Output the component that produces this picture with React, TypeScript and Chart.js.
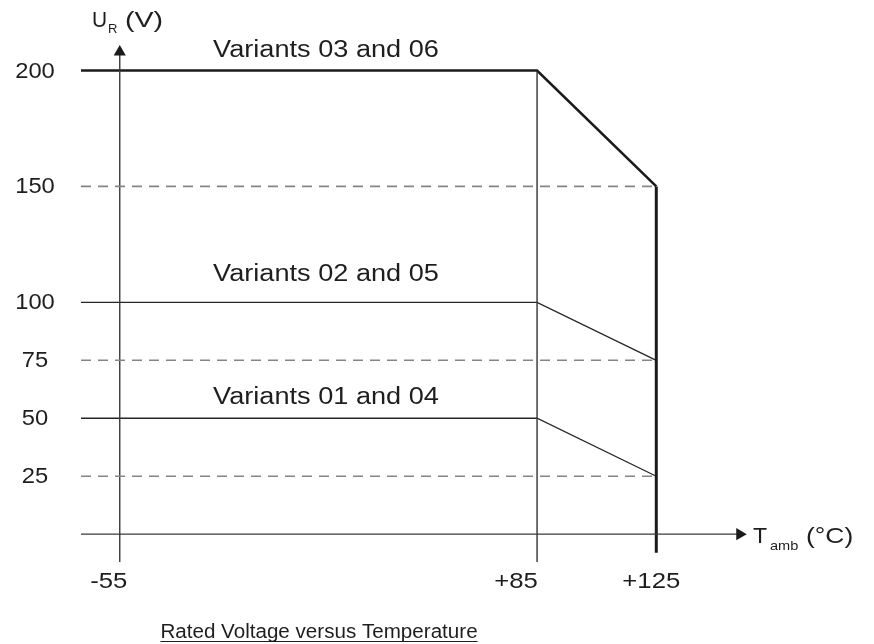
import React, { useEffect, useRef } from "react";
import { Chart, registerables } from "chart.js";

Chart.register(...registerables);

// ---- data ----
const tempPoints = [-68, 85, 125];
const variant0306 = [200, 200, 150];
const variant0205 = [100, 100, 75];
const variant0104 = [50, 50, 25];
const deratedLevels = [150, 75, 25];
const variantLabels = ["Variants 03 and 06", "Variants 02 and 05", "Variants 01 and 04"];
const variantLevels = [200, 100, 50];
const voltTicks = [25, 50, 75, 100, 150, 200];
const tempTicks = [-55, 85, 125];
const tempTickLabels = ["-55", "+85", "+125"];
const axisStart = -68;
const axisEnd = 153;
const knee = 85;
const maxTemp = 125;
const axisTemp = -55;
const belowAxis = -12;
const arrowTop = 208;

const FONT = (s: number) => `${s}px "Liberation Sans", Arial, Helvetica, sans-serif`;

function txt(ctx: any, s: string, x: number, y: number, sx: number, align: CanvasTextAlign) {
  ctx.save();
  ctx.translate(x, y);
  ctx.scale(sx, 1);
  ctx.textAlign = align;
  ctx.fillText(s, 0, 0);
  ctx.restore();
}

const labelPlugin = {
  id: "diagramLabels",
  afterDatasetsDraw(chart: any) {
    const { ctx } = chart;
    const x = chart.scales.x;
    const y = chart.scales.y;
    ctx.save();
    ctx.fillStyle = "#1e1e1e";
    ctx.strokeStyle = "#1e1e1e";

    // y tick labels
    ctx.font = FONT(22);
    ctx.textBaseline = "middle";
    voltTicks.forEach((v) => txt(ctx, String(v), 35, y.getPixelForValue(v) + 1, 1.08, "center"));

    // x tick labels
    ctx.textBaseline = "alphabetic";
    const xOff = [-11, -21, -5];
    tempTicks.forEach((t, i) => txt(ctx, tempTickLabels[i], x.getPixelForValue(t) + xOff[i], 588, 1.17, "center"));

    // variant labels
    ctx.font = FONT(23);
    const offs = [14, 21, 14];
    variantLabels.forEach((lab, i) => {
      txt(ctx, lab, 326, y.getPixelForValue(variantLevels[i]) - offs[i], 1.18, "center");
    });

    // y axis title U_R (V)
    ctx.font = FONT(22);
    txt(ctx, "U", 92, 27, 0.95, "left");
    ctx.font = FONT(13);
    txt(ctx, "R", 108, 33, 1.0, "left");
    ctx.font = FONT(22);
    txt(ctx, "(V)", 125, 27, 1.3, "left");

    // x axis title T_amb (°C)
    txt(ctx, "T", 753, 543, 1.05, "left");
    ctx.font = FONT(13);
    txt(ctx, "amb", 770, 550, 1.12, "left");
    ctx.font = FONT(22);
    txt(ctx, "(°C)", 806, 543, 1.2, "left");

    // caption
    ctx.font = FONT(20);
    const cap = "Rated Voltage versus Temperature";
    const capSx = 1.03;
    txt(ctx, cap, 319, 638, capSx, "center");
    const w = ctx.measureText(cap).width * capSx;
    ctx.lineWidth = 1.2;
    ctx.beginPath();
    ctx.moveTo(319 - w / 2, 641.5);
    ctx.lineTo(319 + w / 2, 641.5);
    ctx.stroke();

    ctx.restore();
  },
};

const seg = (xs: number[], ys: number[]) => xs.map((xv, i) => ({ x: xv, y: ys[i] }));

export default function App() {
  const ref = useRef<HTMLCanvasElement | null>(null);

  useEffect(() => {
    if (!ref.current) return;
    const dark = "#1b1b1b";
    const thin = "#262626";
    const dash = "#858585";
    const base = {
      showLine: true,
      pointRadius: 0,
      tension: 0,
      clip: false as any,
      borderJoinStyle: "miter" as const,
      borderCapStyle: "butt" as const,
      fill: false,
    };
    const datasets: any[] = [
      ...deratedLevels.map((lv) => ({
        ...base,
        label: `derated ${lv}`,
        data: seg([axisStart, maxTemp], [lv, lv]),
        borderColor: dash,
        borderWidth: 1.6,
        borderDash: [10, 7],
      })),
      {
        ...base,
        label: "x axis",
        data: seg([axisStart, axisEnd], [0, 0]),
        borderColor: "#3a3a3a",
        borderWidth: 1.3,
        pointRadius: [0, 7],
        pointStyle: "triangle",
        rotation: [0, 90],
        pointBackgroundColor: dark,
        pointBorderColor: dark,
        pointBorderWidth: 0,
      },
      {
        ...base,
        label: "y axis",
        data: seg([axisTemp, axisTemp], [belowAxis, arrowTop]),
        borderColor: "#3a3a3a",
        borderWidth: 1.4,
        pointRadius: [0, 7],
        pointStyle: "triangle",
        rotation: 0,
        pointBackgroundColor: dark,
        pointBorderColor: dark,
        pointBorderWidth: 0,
      },
      {
        ...base,
        label: "85",
        data: seg([knee, knee], [belowAxis, 200]),
        borderColor: "#333333",
        borderWidth: 1.4,
      },
      {
        ...base,
        label: "125",
        data: seg([maxTemp, maxTemp], [-8, 150]),
        borderColor: dark,
        borderWidth: 3,
      },
      {
        ...base,
        label: variantLabels[0],
        data: seg(tempPoints, variant0306),
        borderColor: dark,
        borderWidth: 2.6,
      },
      {
        ...base,
        label: variantLabels[1],
        data: seg(tempPoints, variant0205),
        borderColor: thin,
        borderWidth: 1.3,
      },
      {
        ...base,
        label: variantLabels[2],
        data: seg(tempPoints, variant0104),
        borderColor: thin,
        borderWidth: 1.3,
      },
    ];

    const chart = new Chart(ref.current, {
      type: "scatter",
      data: { datasets },
      options: {
        animation: false,
        responsive: true,
        maintainAspectRatio: false,
        events: [],
        layout: { padding: { left: 81, right: 874 - 748.7, top: 45, bottom: 644 - 562 } },
        plugins: { legend: { display: false }, tooltip: { enabled: false } },
        scales: {
          x: { type: "linear", min: -68, max: 156, display: false },
          y: { type: "linear", min: -12, max: 211, display: false },
        },
      },
      plugins: [labelPlugin],
    });
    return () => chart.destroy();
  }, []);

  return (
    <div style={{ position: "absolute", left: 0, top: 0, width: 874, height: 644, background: "#fff" }}>
      <canvas ref={ref} />
    </div>
  );
}
